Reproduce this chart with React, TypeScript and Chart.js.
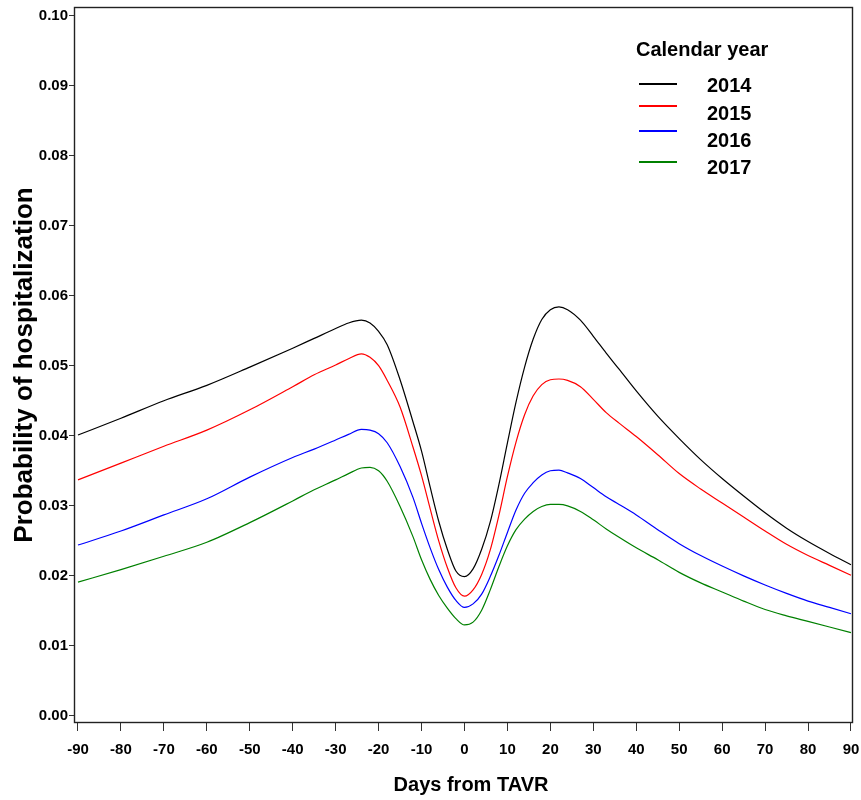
import React, { useEffect, useRef } from "react";
import { Chart, registerables } from "chart.js";

Chart.register(...registerables);

const DAYS = [-90, -80, -70, -60, -50, -40, -35, -30, -27, -24, -22, -20, -18, -15, -12, -10, -8, -6, -4, -2, 0, 2, 4, 6, 8, 10, 12, 14, 16, 18, 20, 22, 24, 27, 30, 33, 36, 40, 45, 50, 55, 60, 65, 70, 75, 80, 85, 90];

const Y2014 = [0.0401, 0.0425, 0.045, 0.0472, 0.0498, 0.0525, 0.0539, 0.0553, 0.0561, 0.0565, 0.0561, 0.0549, 0.053, 0.048, 0.042, 0.0378, 0.0327, 0.0278, 0.0238, 0.0207, 0.0199, 0.021, 0.0238, 0.0277, 0.033, 0.039, 0.0448, 0.0498, 0.0538, 0.0566, 0.058, 0.0584, 0.058, 0.0565, 0.0542, 0.0518, 0.0495, 0.0464, 0.0428, 0.0396, 0.0366, 0.0339, 0.0314, 0.029, 0.0268, 0.0249, 0.0232, 0.0216];

const Y2015 = [0.0337, 0.0361, 0.0385, 0.0408, 0.0437, 0.047, 0.0487, 0.0501, 0.051, 0.0517, 0.0512, 0.05, 0.0479, 0.0441, 0.0384, 0.0343, 0.0296, 0.025, 0.0212, 0.0183, 0.0171, 0.018, 0.0202, 0.0237, 0.0286, 0.0342, 0.0391, 0.043, 0.0457, 0.0473, 0.048, 0.0481, 0.0479, 0.047, 0.0452, 0.0433, 0.0418, 0.0399, 0.0373, 0.0346, 0.0324, 0.0304, 0.0284, 0.0264, 0.0245, 0.0229, 0.0215, 0.0201];

const Y2016 = [0.0244, 0.0264, 0.0287, 0.031, 0.0341, 0.0369, 0.0381, 0.0394, 0.0402, 0.0409, 0.0408, 0.0403, 0.039, 0.0356, 0.0312, 0.0275, 0.024, 0.0209, 0.0184, 0.0165, 0.0155, 0.016, 0.0174, 0.0199, 0.0229, 0.0262, 0.0294, 0.0318, 0.0333, 0.0344, 0.035, 0.0351, 0.0347, 0.0339, 0.0326, 0.0313, 0.0302, 0.0287, 0.0266, 0.0246, 0.0229, 0.0214, 0.02, 0.0187, 0.0175, 0.0164, 0.0155, 0.0146];

const Y2017 = [0.0191, 0.0209, 0.0228, 0.0248, 0.0276, 0.0307, 0.0323, 0.0337, 0.0346, 0.0354, 0.0355, 0.035, 0.0335, 0.0299, 0.0256, 0.0223, 0.0195, 0.0172, 0.0154, 0.0139, 0.013, 0.0134, 0.0151, 0.018, 0.0213, 0.0243, 0.0266, 0.0281, 0.0292, 0.0299, 0.0302, 0.0302, 0.03, 0.0292, 0.028, 0.0267, 0.0255, 0.024, 0.0223, 0.0205, 0.019, 0.0177, 0.0164, 0.0152, 0.0143, 0.0135, 0.0127, 0.0119];

const YEARS = ["2014", "2015", "2016", "2017"];
const COLORS = ["#000000", "#ff0000", "#0000ff", "#008000"];
const SERIES = [Y2014, Y2015, Y2016, Y2017];

const X_TICKS = [-90, -80, -70, -60, -50, -40, -30, -20, -10, 0, 10, 20, 30, 40, 50, 60, 70, 80, 90];
const Y_TICKS = [0, 0.01, 0.02, 0.03, 0.04, 0.05, 0.06, 0.07, 0.08, 0.09, 0.1];

const LEGEND_TITLE = "Calendar year";
const X_TITLE = "Days from TAVR";
const Y_TITLE = "Probability of hospitalization";

const FONT = '"Liberation Sans", Arial, Helvetica, sans-serif';

const framePlugin = {
  id: "frame",
  afterDatasetsDraw(chart: any) {
    const { ctx, chartArea } = chart;
    ctx.save();
    ctx.strokeStyle = "#222";
    ctx.lineWidth = 1.4;
    ctx.strokeRect(
      Math.round(chartArea.left) + 0.5,
      Math.round(chartArea.top) + 0.5,
      Math.round(chartArea.right - chartArea.left) - 1,
      Math.round(chartArea.bottom - chartArea.top) - 1
    );
    ctx.restore();
  },
};

const legendPlugin = {
  id: "customLegend",
  afterDraw(chart: any) {
    const { ctx } = chart;
    ctx.save();
    ctx.fillStyle = "#000";
    ctx.textBaseline = "alphabetic";
    ctx.textAlign = "left";
    ctx.font = `bold 20px ${FONT}`;
    ctx.fillText(LEGEND_TITLE, 636, 56);
    const lineYs = [84, 106, 131, 162];
    const textYs = [92, 120, 147, 174];
    chart.data.datasets.forEach((ds: any, i: number) => {
      ctx.strokeStyle = ds.borderColor;
      ctx.lineWidth = 2;
      ctx.beginPath();
      ctx.moveTo(639, lineYs[i]);
      ctx.lineTo(677, lineYs[i]);
      ctx.stroke();
      ctx.fillStyle = "#000";
      ctx.fillText(ds.label, 707, textYs[i]);
    });
    // x axis title
    ctx.textAlign = "center";
    ctx.textBaseline = "middle";
    ctx.font = `bold 20px ${FONT}`;
    ctx.fillText(X_TITLE, 471, 785);
    ctx.restore();
  },
};

export default function App() {
  const ref = useRef<HTMLCanvasElement | null>(null);

  useEffect(() => {
    document.body.style.margin = "0";
    const canvas = ref.current;
    if (!canvas) return;
    const chart = new Chart(canvas, {
      type: "line",
      data: {
        datasets: SERIES.map((s, i) => ({
          label: YEARS[i],
          data: DAYS.map((d, j) => ({ x: d, y: s[j] })),
          borderColor: COLORS[i],
          backgroundColor: COLORS[i],
          borderWidth: 1.2,
          pointRadius: 0,
          cubicInterpolationMode: "monotone" as const,
          fill: false,
        })),
      },
      options: {
        responsive: false,
        animation: false,
        devicePixelRatio: 1,
        layout: { padding: { top: 7, right: 8, left: 0, bottom: 0 } },
        plugins: {
          legend: { display: false },
          tooltip: { enabled: false },
        },
        scales: {
          x: {
            type: "linear",
            min: -90.93,
            max: 90.47,
            afterBuildTicks: (scale: any) => {
              scale.ticks = X_TICKS.map((v) => ({ value: v }));
            },
            afterFit: (scale: any) => {
              scale.height = 77;
              scale.paddingLeft = 0;
              scale.paddingRight = 0;
            },
            grid: {
              drawOnChartArea: false,
              drawTicks: true,
              tickLength: 8,
              color: "#333",
            },
            border: { display: false },
            ticks: {
              color: "#000",
              font: { family: FONT, size: 15, weight: "bold" },
              padding: 10,
              maxRotation: 0,
              autoSkip: false,
              callback: (v: any) => String(v),
            },
            title: { display: false },
          },
          y: {
            type: "linear",
            min: -0.001,
            max: 0.1012,
            afterBuildTicks: (scale: any) => {
              scale.ticks = Y_TICKS.map((v) => ({ value: v }));
            },
            afterFit: (scale: any) => {
              scale.width = 74;
              scale.paddingTop = 0;
              scale.paddingBottom = 0;
            },
            grid: {
              drawOnChartArea: false,
              drawTicks: true,
              tickLength: 5,
              color: "#333",
            },
            border: { display: false },
            ticks: {
              color: "#000",
              font: { family: FONT, size: 15, weight: "bold" },
              padding: 1,
              autoSkip: false,
              callback: (v: any) => Number(v).toFixed(2),
            },
            title: {
              display: true,
              text: Y_TITLE,
              color: "#000",
              font: { family: FONT, size: 26, weight: "bold" },
              padding: { top: 9, bottom: 0 },
            },
          },
        },
      },
      plugins: [framePlugin, legendPlugin],
    });
    return () => chart.destroy();
  }, []);

  return (
    <div style={{ width: 861, height: 800 }}>
      <canvas ref={ref} width={861} height={800} style={{ display: "block" }} />
    </div>
  );
}
